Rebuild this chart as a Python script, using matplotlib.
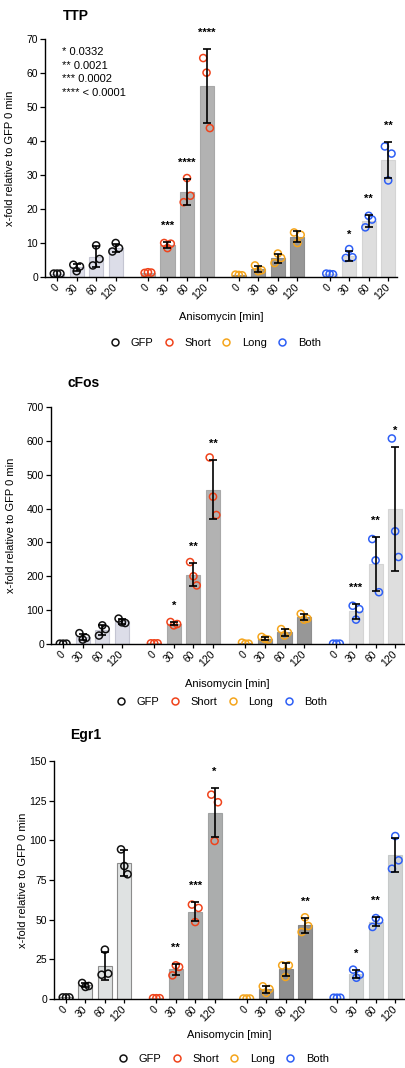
import matplotlib

matplotlib.use("Agg")
import matplotlib.pyplot as plt
import numpy as np
from matplotlib.lines import Line2D

plt.rcParams["font.family"] = ["Liberation Sans", "DejaVu Sans"]

groups = ["GFP", "Short", "Long", "Both"]
times = ["0", "30", "60", "120"]
point_colors = ["#111111", "#f0431b", "#f5a51c", "#2e5ff5"]

# replicate values per group, per time point (order: centre, left, right)
ttp_points = [
    [[1.0, 1.0, 1.0], [1.7, 3.6, 3.1], [9.3, 3.4, 5.3], [10.0, 7.5, 8.5]],
    [[1.4, 1.2, 1.3], [8.5, 10.0, 9.8], [29.1, 22.0, 23.9], [60.1, 64.4, 43.8]],
    [[0.6, 0.7, 0.5], [1.7, 3.4, 2.0], [6.9, 4.1, 5.6], [10.0, 13.1, 12.4]],
    [[0.9, 1.0, 0.8], [8.2, 5.6, 5.8], [18.0, 14.6, 16.9], [28.4, 38.4, 36.3]],
]
ttp_mean = [[1.0, 2.8, 6.0, 8.6], [1.3, 9.4, 25.0, 56.1],
            [0.6, 2.4, 5.5, 11.8], [0.9, 6.2, 16.5, 34.4]]
ttp_sd = [[0.05, 1.0, 3.0, 1.2], [0.1, 0.8, 3.7, 10.9],
          [0.1, 0.9, 1.4, 1.6], [0.1, 1.5, 1.7, 5.3]]
ttp_stars = [["", "", "", ""], ["", "***", "****", "****"],
             ["", "", "", ""], ["", "*", "**", "**"]]

cfos_points = [
    [[1, 1, 1], [13, 32, 18], [55, 25, 44], [64, 75, 62]],
    [[2, 2, 2], [55, 65, 59], [200, 242, 173], [435, 551, 381]],
    [[1, 4, 1], [15, 21, 13], [25, 44, 34], [72, 89, 75]],
    [[1, 1, 1], [72, 113, 103], [247, 310, 153], [333, 607, 257]],
]
cfos_mean = [[1, 21, 41, 67], [2, 60, 205, 456],
             [2, 16, 34, 79], [1, 96, 237, 399]]
cfos_sd = [[0.1, 10, 15, 7], [0.2, 5, 35, 87],
           [1.5, 4, 9.5, 9], [0.1, 21, 79, 184]]
cfos_stars = [["", "", "", ""], ["", "*", "**", "**"],
              ["", "", "", ""], ["", "***", "**", "*"]]

egr1_points = [
    [[1.0, 1.0, 1.0], [7.6, 10.1, 8.2], [31.1, 15.3, 16.0], [83.8, 94.3, 78.6]],
    [[0.5, 0.5, 0.5], [21.2, 14.9, 20.2], [48.5, 59.5, 57.4], [99.6, 128.8, 124.0]],
    [[0.3, 0.3, 0.3], [3.8, 8.0, 6.3], [13.9, 21.2, 21.2], [51.5, 42.2, 46.0]],
    [[0.8, 0.8, 0.8], [13.4, 18.5, 15.3], [51.0, 45.4, 49.6], [102.7, 82.1, 87.4]],
]
egr1_mean = [[1.0, 8.6, 20.8, 85.6], [0.5, 18.8, 55.1, 117.5],
             [0.3, 6.0, 18.8, 46.6], [0.8, 15.7, 48.7, 90.7]]
egr1_sd = [[0.1, 1.3, 8.9, 8.0], [0.1, 3.4, 5.8, 15.7],
           [0.1, 2.1, 4.2, 4.7], [0.1, 2.6, 2.9, 10.7]]
egr1_stars = [["", "", "", ""], ["", "**", "***", "*"],
              ["", "", "", "**"], ["", "*", "**", ""]]

pvalue_lines = ["* 0.0332", "** 0.0021", "*** 0.0002", "**** < 0.0001"]

# bar fill / edge per group
fills_a = ["#dcdde8", "#b2b2b2", "#979797", "#dedede"]
edges_a = ["#c4c5d2", "#a8a8a8", "#8e8e8e", "#d4d4d4"]
fills_b = ["#dfe2e2", "#abadad", "#909090", "#d0d3d3"]
edges_b = ["#8c8c8c", "#a0a2a2", "#888888", "#c6c9c9"]

GROUP_STEP = 4.65
JITTER = [0.0, -0.17, 0.17]


def draw_panel(ax, points, means, sds, stars, ymax, ystep, fills, edges):
    xs = []
    for g in range(4):
        for t in range(4):
            x = g * GROUP_STEP + t
            xs.append(x)
            ax.bar(x, means[g][t], width=0.72, color=fills[g],
                   edgecolor=edges[g], linewidth=0.8, zorder=1)
            for j, v in enumerate(points[g][t]):
                ax.scatter(x + JITTER[j], v, s=26, facecolors="none",
                           edgecolors=point_colors[g], linewidths=1.1, zorder=2)
            if means[g][t] > ymax * 0.02:
                ax.errorbar(x, means[g][t], yerr=sds[g][t], fmt="none",
                            ecolor="black", elinewidth=1.2, capsize=2.8,
                            capthick=1.2, zorder=3)
            if stars[g][t]:
                ax.annotate(stars[g][t], (x, means[g][t] + sds[g][t]),
                            xytext=(0, 8), textcoords="offset points",
                            ha="center", va="bottom", fontsize=8,
                            fontweight="bold")
    ax.set_xlim(-0.62, 3 * GROUP_STEP + 3 + 0.45)
    ax.set_ylim(0, ymax)
    ax.set_yticks(np.arange(0, ymax + 1, ystep))
    ax.set_xticks(xs)
    ax.set_xticklabels(times * 4, rotation=45, ha="right", va="center",
                       rotation_mode="anchor")
    ax.tick_params(axis="x", length=3, width=0.9, pad=3, labelsize=7.5)
    ax.tick_params(axis="y", length=3.5, width=0.9, pad=1.5, labelsize=7.5)
    for side in ["top", "right"]:
        ax.spines[side].set_visible(False)
    for side in ["left", "bottom"]:
        ax.spines[side].set_linewidth(1.0)
    ax.set_xlabel("Anisomycin [min]", fontsize=8)
    ax.set_ylabel("x-fold relative to GFP 0 min", fontsize=8)


def add_legend(ax, y):
    handles = [Line2D([], [], marker="o", linestyle="none", markersize=5,
                      markerfacecolor="none", markeredgecolor=c,
                      markeredgewidth=1.1) for c in point_colors]
    ax.legend(handles, groups, loc="center", bbox_to_anchor=(0.483, y),
              ncol=4, frameon=False, fontsize=8, handletextpad=0.9,
              columnspacing=0.9, handlelength=1.0)


W, H = 405, 1068
fig = plt.figure(figsize=(W / 100, H / 100), dpi=100)


def px_axes(left, right, top, bottom):
    return fig.add_axes([left / W, 1 - bottom / H, (right - left) / W,
                         (bottom - top) / H])


ax1 = px_axes(45, 397, 39, 277)
draw_panel(ax1, ttp_points, ttp_mean, ttp_sd, ttp_stars, 70, 10, fills_a, edges_a)
ax1.xaxis.set_label_coords(0.5, -0.148)
ax1.yaxis.set_label_coords(-0.085, 0.5)
add_legend(ax1, -0.277)
fig.text(63 / W, 1 - 16 / H, "TTP", fontsize=10, fontweight="bold", va="center")
for i, line in enumerate(pvalue_lines):
    fig.text(62 / W, 1 - (52 + i * 13.7) / H, line, fontsize=8, va="center")

ax2 = px_axes(51, 404, 407, 644)
draw_panel(ax2, cfos_points, cfos_mean, cfos_sd, cfos_stars, 700, 100, fills_a, edges_a)
ax2.xaxis.set_label_coords(0.5, -0.148)
ax2.yaxis.set_label_coords(-0.1, 0.5)
add_legend(ax2, -0.245)
fig.text(67 / W, 1 - 383 / H, "cFos", fontsize=10, fontweight="bold", va="center")

ax3 = px_axes(54, 404, 761, 999)
draw_panel(ax3, egr1_points, egr1_mean, egr1_sd, egr1_stars, 150, 25, fills_b, edges_b)
ax3.xaxis.set_label_coords(0.5, -0.13)
ax3.yaxis.set_label_coords(-0.075, 0.5)
add_legend(ax3, -0.252)
fig.text(70 / W, 1 - 735 / H, "Egr1", fontsize=10, fontweight="bold", va="center")

fig.savefig("out.png", dpi=100)
